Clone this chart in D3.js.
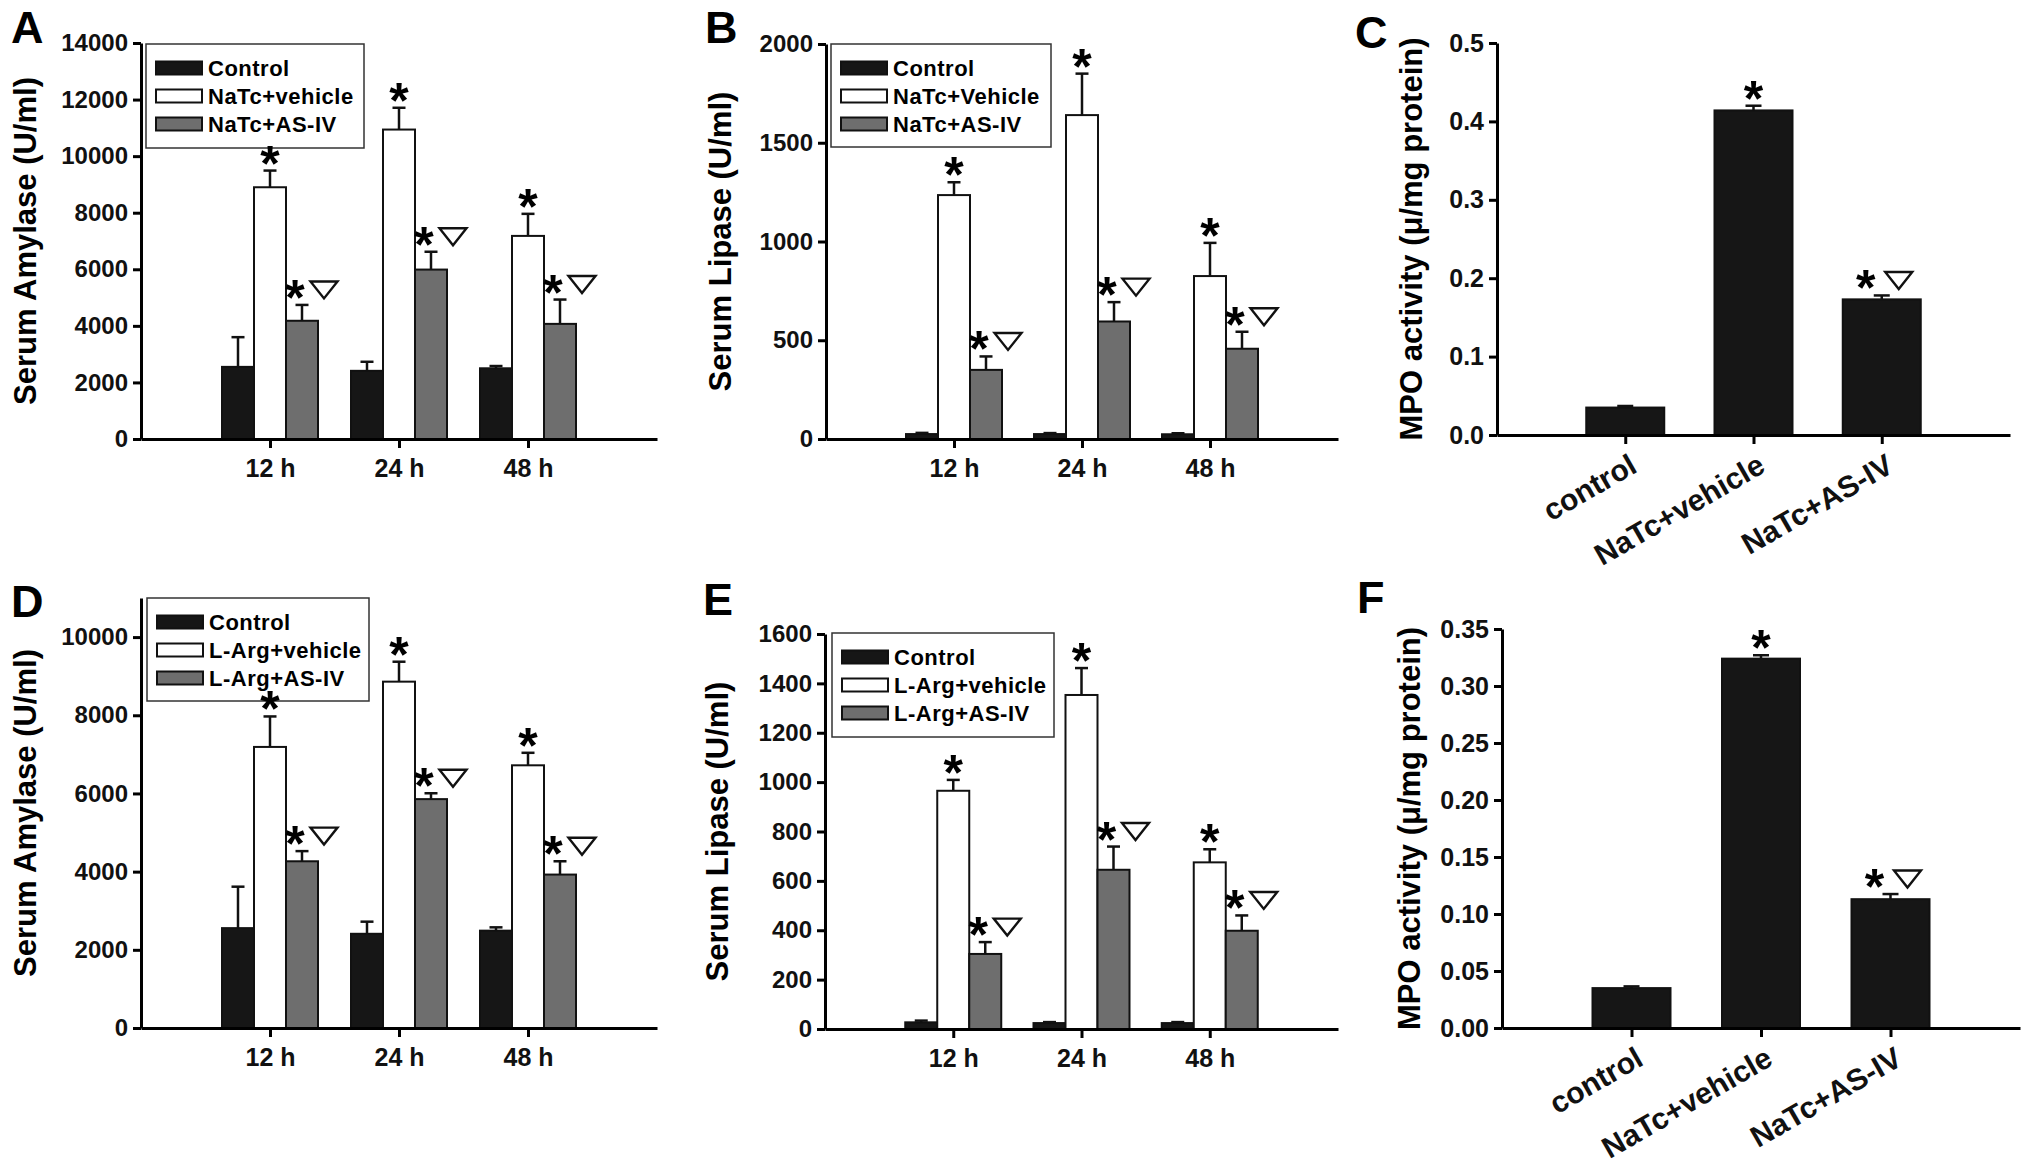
<!DOCTYPE html>
<html lang="en">
<head>
<meta charset="UTF-8" />
<title>Serum amylase, lipase and MPO activity</title>
<script src="https://cdn.jsdelivr.net/npm/d3@7"></script>
<style>
  body { margin: 0; background: #fff; }
  svg { display: block; font-family: "Liberation Sans", Arial, sans-serif; font-weight: bold; }
</style>
</head>
<body>
<svg width="2031" height="1166"></svg>
<script>
// categories
const timePoints = ["12 h", "24 h", "48 h"];
const mpoGroups = ["control", "NaTc+vehicle", "NaTc+AS-IV"];
const seriesMarks = ["", "*", "*▽"];

// A: serum amylase, NaTc model
const amyNaTcControl = [2550, 2410, 2500];
const amyNaTcControlErr = [1050, 320, 80];
const amyNaTcVehicle = [8900, 10940, 7180];
const amyNaTcVehicleErr = [590, 770, 780];
const amyNaTcASIV = [4180, 5990, 4070];
const amyNaTcASIVErr = [560, 630, 860];

// B: serum lipase, NaTc model
const lipNaTcControl = [25, 25, 24];
const lipNaTcControlErr = [6, 5, 5];
const lipNaTcVehicle = [1235, 1640, 825];
const lipNaTcVehicleErr = [65, 210, 168];
const lipNaTcASIV = [350, 595, 457];
const lipNaTcASIVErr = [68, 98, 86];

// C: MPO, NaTc model
const mpoC = [0.035, 0.414, 0.173];
const mpoCErr = [0.002, 0.006, 0.005];

// D: serum amylase, L-Arg model
const amyArgControl = [2555, 2410, 2490];
const amyArgControlErr = [1060, 310, 85];
const amyArgVehicle = [7190, 8860, 6720];
const amyArgVehicleErr = [780, 510, 320];
const amyArgASIV = [4265, 5855, 3925];
const amyArgASIVErr = [260, 150, 340];

// E: serum lipase, L-Arg model
const lipArgControl = [27, 24, 24];
const lipArgControlErr = [7, 4, 4];
const lipArgVehicle = [965, 1353, 675];
const lipArgVehicleErr = [44, 109, 53];
const lipArgASIV = [304, 645, 398];
const lipArgASIVErr = [48, 94, 62];

// F: MPO (second model)
const mpoF = [0.035, 0.324, 0.113];
const mpoFErr = [0.0015, 0.003, 0.0045];

const naTcNames = ["Control", "NaTc+vehicle", "NaTc+AS-IV"];
const naTcNamesB = ["Control", "NaTc+Vehicle", "NaTc+AS-IV"];
const argNames = ["Control", "L-Arg+vehicle", "L-Arg+AS-IV"];

const svg = d3.select("svg");
const fills = ["#161616", "#ffffff", "#6e6e6e"];
const FONT = "Liberation Sans, Arial, sans-serif";
// open down-pointing triangle marker, wider than tall
const triPath = "M-13.5,-8.5L13.5,-8.5L0,8.5Z";

function styleAxis(ax, size) {
  ax.attr("font-family", FONT).attr("font-weight", "bold").attr("font-size", size);
  ax.select(".domain").attr("stroke-width", 3);
  ax.selectAll(".tick line").attr("stroke-width", 3);
  ax.selectAll(".tick text").attr("fill", "#111");
}

function panelLetter(t, x, y) {
  svg.append("text").attr("x", x).attr("y", y).attr("font-size", 45).text(t);
}

function yTitle(t, x, y0, y1) {
  svg.append("text")
    .attr("transform", `translate(${x},${(y0 + y1) / 2}) rotate(-90)`)
    .attr("text-anchor", "middle").attr("dy", "0.35em")
    .attr("font-size", 31).text(t);
}

// asterisk + optional triangle above an error cap
function marks(g, cx, capY, m, dxStar, dxTri) {
  if (!m) return;
  g.append("text").attr("x", cx + (m.length > 1 ? dxStar : 0)).attr("y", capY + 10)
    .attr("text-anchor", "middle").attr("font-size", 50).text("*");
  if (m.length > 1) {
    g.append("path").attr("d", triPath)
      .attr("transform", `translate(${cx + dxTri},${capY - 15})`)
      .attr("fill", "none").attr("stroke", "#111").attr("stroke-width", 2.4);
  }
}

function drawGrouped(cfg) {
  const g = svg.append("g");
  const x = d3.scalePoint().domain(timePoints).range([cfg.x0, cfg.x1]).padding(1);
  const inner = d3.scaleBand().domain(d3.range(cfg.series.length)).range([-48, 48]);
  const y = d3.scaleLinear().domain([0, cfg.yMax]).range([cfg.yBot, cfg.yTop]);
  const bw = inner.bandwidth();

  // legend first so the marks sit on top of its frame
  const L = cfg.legend;
  const lg = g.append("g").attr("transform", `translate(${L.x},${L.y})`);
  lg.append("rect").attr("width", L.w).attr("height", L.h)
    .attr("fill", "#fff").attr("stroke", "#333").attr("stroke-width", 1.5);
  cfg.names.forEach((n, i) => {
    const ry = 24 + i * 28;
    lg.append("rect").attr("x", 10).attr("y", ry - 6.5).attr("width", 46).attr("height", 13)
      .attr("fill", fills[i]).attr("stroke", "#111").attr("stroke-width", 2);
    lg.append("text").attr("x", 62).attr("y", ry + 8).attr("font-size", 22)
      .attr("letter-spacing", 0.5).text(n);
  });

  const rows = [];
  cfg.series.forEach((s, i) => s.vals.forEach((v, j) =>
    rows.push({ i, key: timePoints[j], v, e: s.errs[j] })));

  g.selectAll("rect.bar").data(rows).join("rect").attr("class", "bar")
    .attr("x", d => x(d.key) + inner(d.i))
    .attr("y", d => y(d.v))
    .attr("width", bw)
    .attr("height", d => cfg.yBot - y(d.v))
    .attr("fill", d => fills[d.i])
    .attr("stroke", "#111").attr("stroke-width", 2);

  // error bars (upper only)
  const cx = d => x(d.key) + inner(d.i) + bw / 2;
  g.selectAll("line.err").data(rows).join("line").attr("class", "err")
    .attr("x1", cx).attr("x2", cx)
    .attr("y1", d => y(d.v)).attr("y2", d => y(d.v + d.e))
    .attr("stroke", "#111").attr("stroke-width", 2.5);
  g.selectAll("line.cap").data(rows).join("line").attr("class", "cap")
    .attr("x1", d => cx(d) - 6.5).attr("x2", d => cx(d) + 6.5)
    .attr("y1", d => y(d.v + d.e)).attr("y2", d => y(d.v + d.e))
    .attr("stroke", "#111").attr("stroke-width", 2.5);

  rows.forEach(d => marks(g, cx(d), y(d.v + d.e), seriesMarks[d.i], -7, 22));

  const ya = g.append("g").attr("transform", `translate(${cfg.x0},0)`)
    .call(d3.axisLeft(y).tickValues(d3.range(0, cfg.yTick + 1e-9, cfg.step))
      .tickFormat(cfg.fmt).tickSize(8).tickSizeOuter(0).tickPadding(5));
  styleAxis(ya, 24);
  const xa = g.append("g").attr("transform", `translate(0,${cfg.yBot})`)
    .call(d3.axisBottom(x).tickSize(9).tickSizeOuter(0).tickPadding(11));
  styleAxis(xa, 25);

  yTitle(cfg.title, cfg.x0 + cfg.titleDx, cfg.yTop, cfg.yBot);
  panelLetter(cfg.letter, cfg.lx, cfg.ly);
}

function drawSimple(cfg) {
  const g = svg.append("g");
  const x = d3.scalePoint().domain(mpoGroups).range([cfg.x0, cfg.x1]).padding(1);
  const y = d3.scaleLinear().domain([0, cfg.yMax]).range([cfg.yBot, cfg.yTop]);
  const bw = 78;
  const rows = cfg.vals.map((v, j) => ({ key: mpoGroups[j], v, e: cfg.errs[j] }));

  g.selectAll("rect").data(rows).join("rect")
    .attr("x", d => x(d.key) - bw / 2).attr("y", d => y(d.v))
    .attr("width", bw).attr("height", d => cfg.yBot - y(d.v))
    .attr("fill", "#161616").attr("stroke", "#111").attr("stroke-width", 2);
  g.selectAll("line.err").data(rows).join("line").attr("class", "err")
    .attr("x1", d => x(d.key)).attr("x2", d => x(d.key))
    .attr("y1", d => y(d.v)).attr("y2", d => y(d.v + d.e))
    .attr("stroke", "#111").attr("stroke-width", 2.5);
  g.selectAll("line.cap").data(rows).join("line").attr("class", "cap")
    .attr("x1", d => x(d.key) - 8).attr("x2", d => x(d.key) + 8)
    .attr("y1", d => y(d.v + d.e)).attr("y2", d => y(d.v + d.e))
    .attr("stroke", "#111").attr("stroke-width", 2.5);
  rows.forEach((d, j) => marks(g, x(d.key), y(d.v + d.e), seriesMarks[j], -16, 17));

  const ya = g.append("g").attr("transform", `translate(${cfg.x0},0)`)
    .call(d3.axisLeft(y).tickValues(d3.range(0, cfg.yMax + 1e-9, cfg.step))
      .tickFormat(cfg.fmt).tickSize(8).tickSizeOuter(0).tickPadding(5));
  styleAxis(ya, 25);
  const xa = g.append("g").attr("transform", `translate(0,${cfg.yBot})`)
    .call(d3.axisBottom(x).tickSize(9).tickSizeOuter(0));
  styleAxis(xa, 30);
  xa.selectAll(".tick text")
    .attr("text-anchor", "end").attr("dy", null).attr("y", null)
    .attr("transform", "translate(13,36) rotate(-30)");

  yTitle(cfg.title, cfg.x0 + cfg.titleDx, cfg.yTop, cfg.yBot);
  panelLetter(cfg.letter, cfg.lx, cfg.ly);
}

drawGrouped({
  letter: "A", lx: 11, ly: 43, x0: 141, x1: 657, yTop: 43, yBot: 439,
  yMax: 14000, yTick: 14000, step: 2000, fmt: d3.format("d"),
  title: "Serum Amylase (U/ml)", titleDx: -116, names: naTcNames,
  legend: { x: 146, y: 44, w: 218, h: 104 },
  series: [
    { vals: amyNaTcControl, errs: amyNaTcControlErr },
    { vals: amyNaTcVehicle, errs: amyNaTcVehicleErr },
    { vals: amyNaTcASIV, errs: amyNaTcASIVErr }]
});

drawGrouped({
  letter: "B", lx: 705, ly: 43, x0: 826, x1: 1338, yTop: 44, yBot: 439,
  yMax: 2000, yTick: 2000, step: 500, fmt: d3.format("d"),
  title: "Serum Lipase (U/ml)", titleDx: -106, names: naTcNamesB,
  legend: { x: 831, y: 44, w: 220, h: 103 },
  series: [
    { vals: lipNaTcControl, errs: lipNaTcControlErr },
    { vals: lipNaTcVehicle, errs: lipNaTcVehicleErr },
    { vals: lipNaTcASIV, errs: lipNaTcASIVErr }]
});

drawSimple({
  letter: "C", lx: 1355, ly: 48, x0: 1497, x1: 2010, yTop: 43, yBot: 435,
  yMax: 0.5, step: 0.1, fmt: d3.format(".1f"),
  title: "MPO activity (μ/mg protein)", titleDx: -86,
  vals: mpoC, errs: mpoCErr
});

drawGrouped({
  letter: "D", lx: 11, ly: 617, x0: 141, x1: 657, yTop: 598, yBot: 1028,
  yMax: 11000, yTick: 10000, step: 2000, fmt: d3.format("d"),
  title: "Serum Amylase (U/ml)", titleDx: -116, names: argNames,
  legend: { x: 147, y: 598, w: 222, h: 103 },
  series: [
    { vals: amyArgControl, errs: amyArgControlErr },
    { vals: amyArgVehicle, errs: amyArgVehicleErr },
    { vals: amyArgASIV, errs: amyArgASIVErr }]
});

drawGrouped({
  letter: "E", lx: 703, ly: 615, x0: 825, x1: 1338, yTop: 634, yBot: 1029,
  yMax: 1600, yTick: 1600, step: 200, fmt: d3.format("d"),
  title: "Serum Lipase (U/ml)", titleDx: -108, names: argNames,
  legend: { x: 832, y: 633, w: 222, h: 104 },
  series: [
    { vals: lipArgControl, errs: lipArgControlErr },
    { vals: lipArgVehicle, errs: lipArgVehicleErr },
    { vals: lipArgASIV, errs: lipArgASIVErr }]
});

drawSimple({
  letter: "F", lx: 1357, ly: 613, x0: 1502, x1: 2020, yTop: 629, yBot: 1028,
  yMax: 0.35, step: 0.05, fmt: d3.format(".2f"),
  title: "MPO activity (μ/mg protein)", titleDx: -93,
  vals: mpoF, errs: mpoFErr
});
</script>
</body>
</html>
